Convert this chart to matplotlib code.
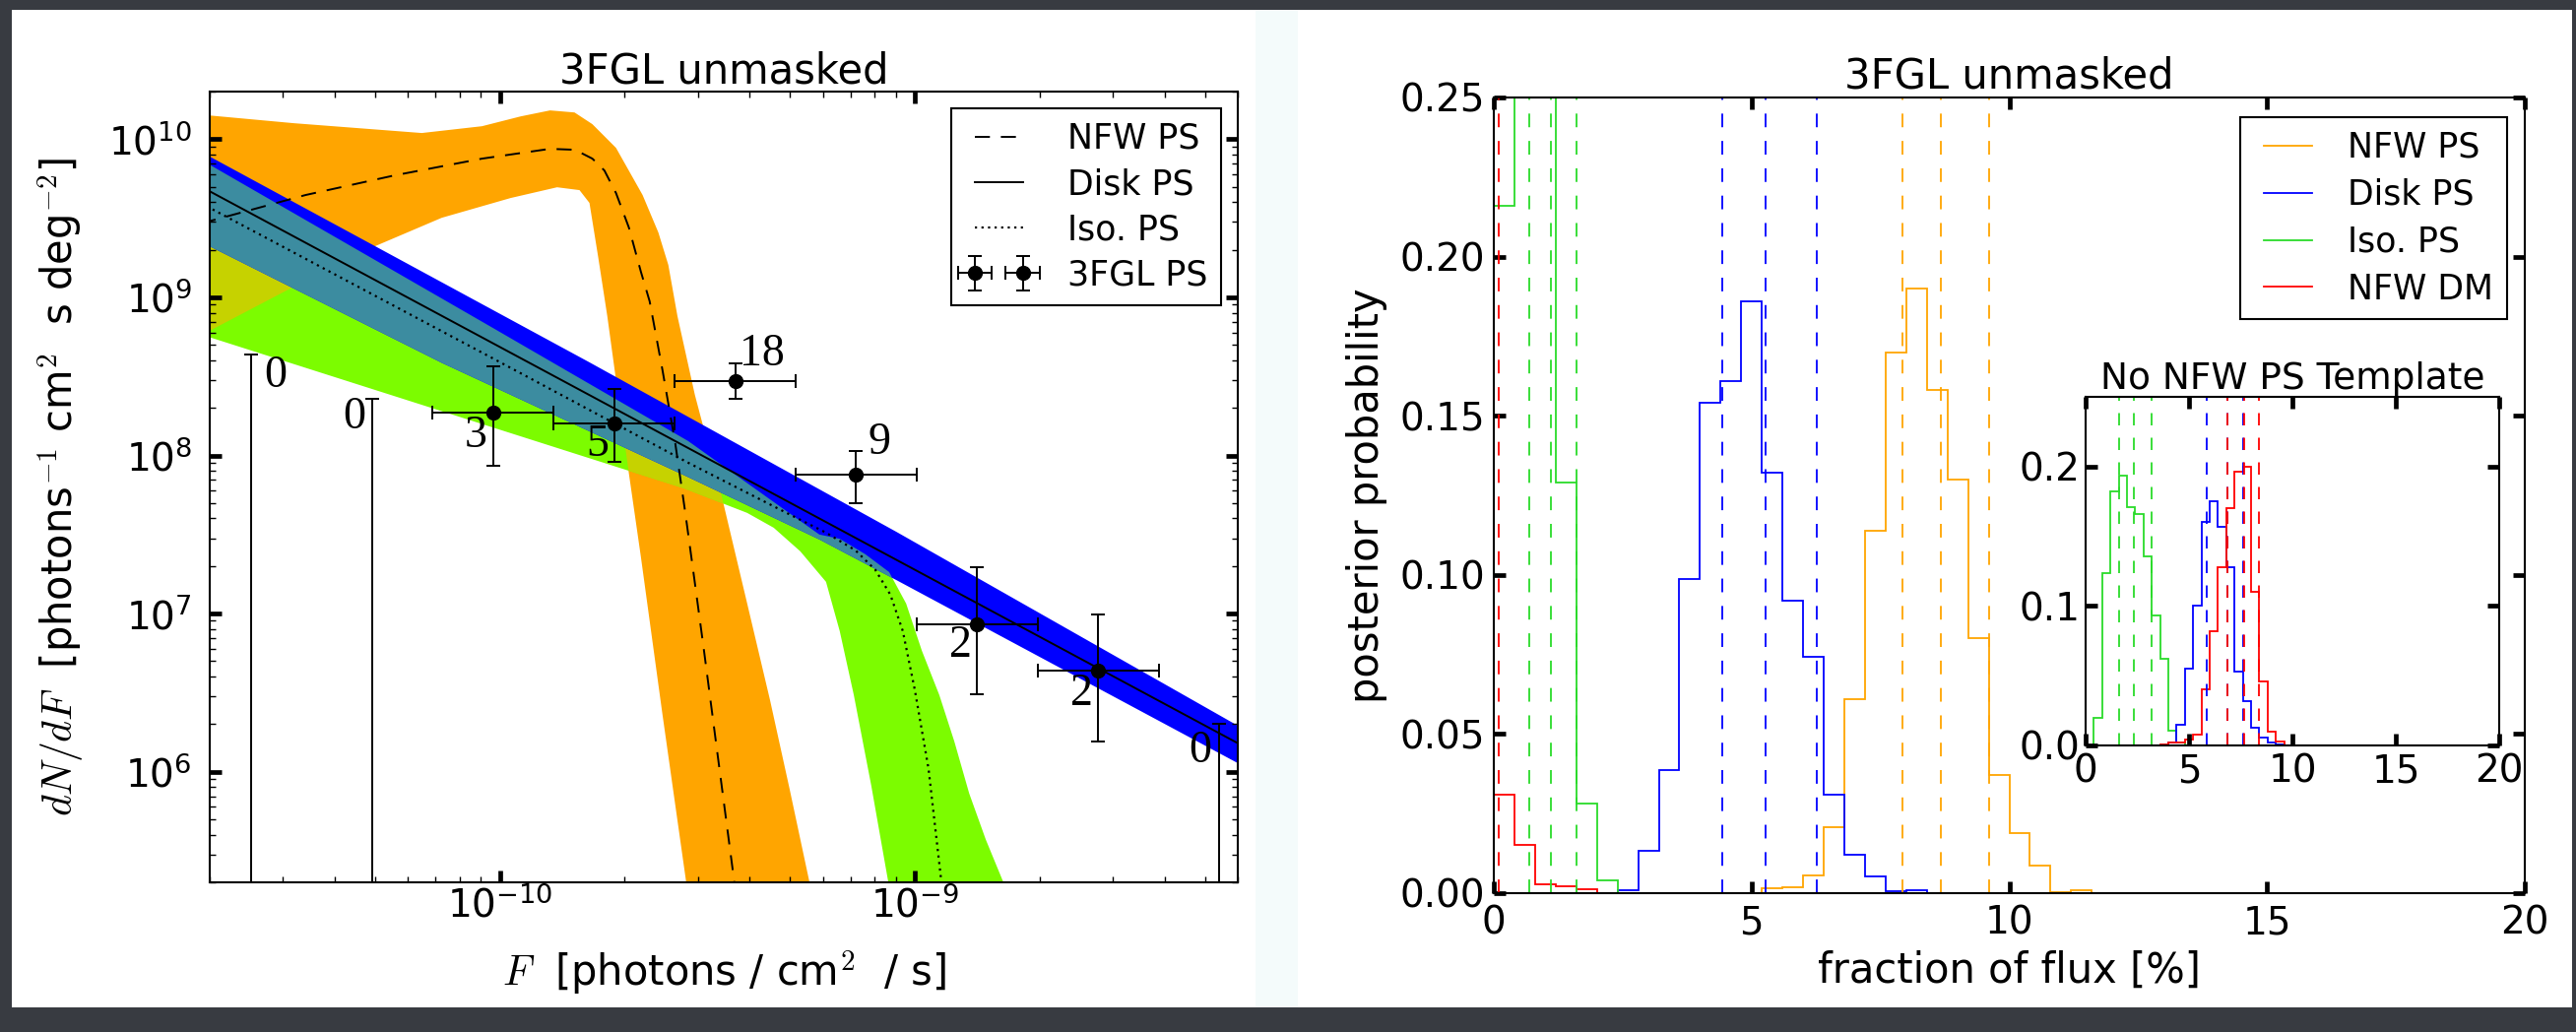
import numpy as np
import matplotlib
matplotlib.use("Agg")
import matplotlib.pyplot as plt
from matplotlib.patches import Rectangle
from matplotlib.lines import Line2D
from matplotlib.ticker import NullFormatter, MultipleLocator, FormatStrFormatter

plt.rcParams.update({
    "font.family": "DejaVu Sans",
    "axes.unicode_minus": False,
    "lines.scale_dashes": False,
    "axes.linewidth": 1.5,
    "xtick.direction": "in", "ytick.direction": "in",
    "xtick.top": True, "ytick.right": True,
    "xtick.major.size": 8.6, "xtick.major.width": 3.4,
    "ytick.major.size": 8.6, "ytick.major.width": 3.4,
    "xtick.minor.size": 4.3, "xtick.minor.width": 1.0,
    "ytick.minor.size": 4.3, "ytick.minor.width": 1.0,
    "xtick.labelsize": 28, "ytick.labelsize": 28,
    "legend.fontsize": 25,
})

# ---------------- source-count distribution (log10 values) ----------------
# NFW PS: median and 68% band
nfw_med_logF = [-10.72, -10.468, -10.254, -10.043, -9.879, -9.819, -9.777, -9.748, -9.720, -9.689,
                 -9.660, -9.639, -9.608, -9.577, -9.553, -9.532, -9.508, -9.477, -9.435, -9.416]
nfw_med_logN = [9.467, 9.647, 9.771, 9.877, 9.939, 9.933, 9.877, 9.802, 9.659, 9.441,
                9.161, 8.975, 8.539, 8.072, 7.636, 7.232, 6.765, 6.143, 5.303, 4.961]
nfw_hi_logF = [-10.72, -10.496, -10.188, -10.043, -9.950, -9.879, -9.820, -9.777, -9.720, -9.656,
               -9.618, -9.594, -9.572, -9.530, -9.466, -9.404, -9.349, -9.302, -9.254, -9.226]
nfw_hi_logN = [10.155, 10.101, 10.039, 10.082, 10.144, 10.182, 10.169, 10.095, 9.945, 9.647,
               9.410, 9.205, 8.881, 8.383, 7.749, 7.064, 6.454, 5.894, 5.303, 4.961]
nfw_lo_logF = [-10.72, -10.496, -10.318, -10.140, -9.974, -9.862, -9.808, -9.784, -9.763, -9.741,
               -9.720, -9.689, -9.660, -9.608, -9.551, -9.532]
nfw_lo_logN = [8.760, 9.068, 9.304, 9.503, 9.628, 9.696, 9.678, 9.597, 9.255, 8.881,
               8.477, 7.886, 7.357, 6.361, 5.303, 4.961]

# Disk PS: power law with band
disk_logF = [-10.72, -9.463, -8.20]
disk_med_logN = [9.70, 7.93, 6.15]
disk_hi_logF = [-10.72, -9.784, -9.043, -8.20]
disk_hi_logN = [9.92, 8.589, 7.515, 6.259]
disk_lo_logF = [-10.72, -10.140, -9.546, -9.230, -9.043, -8.20]
disk_lo_logN = [9.35, 8.586, 7.863, 7.469, 7.210, 6.024]

# Isotropic PS
iso_med_logF = [-10.72, -10.021, -9.546, -9.309, -9.214, -9.143, -9.095, -9.059, -9.029, -9.000,
                -8.967, -8.936, -8.929]
iso_med_logN = [9.595, 8.620, 7.954, 7.637, 7.512, 7.400, 7.276, 7.120, 6.890, 6.517,
                6.019, 5.303, 4.961]
iso_hi_logF = [-10.72, -10.021, -9.546, -9.230, -9.181, -9.119, -9.062, -9.021, -8.983, -8.941,
               -8.905, -8.869, -8.829, -8.786, -8.763]
iso_hi_logN = [9.87, 8.813, 8.091, 7.500, 7.473, 7.375, 7.263, 7.064, 6.765, 6.485,
               6.193, 5.863, 5.571, 5.297, 4.961]
iso_lo_logF = [-10.72, -9.556, -9.404, -9.340, -9.276, -9.214, -9.181, -9.147, -9.105, -9.064, -9.048]
iso_lo_logN = [8.765, 7.792, 7.637, 7.543, 7.394, 7.201, 6.890, 6.485, 5.913, 5.303, 4.961]

# 3FGL point sources in flux bins
flux_edges_log = [-10.745, -10.453, -10.162, -9.870, -9.579, -9.287, -8.996, -8.704, -8.412, -8.121]
counts = [0, 0, 3, 5, 18, 9, 2, 2, 0]
dnd_f = [0, 0, 1.87e8, 1.60e8, 2.95e8, 7.57e7, 8.57e6, 4.37e6, 0]
dnd_f_low = [0, 0, 8.6e7, 9.1e7, 2.28e8, 5.0e7, 3.08e6, 1.56e6, 0]
dnd_f_high = [4.35e8, 2.27e8, 3.66e8, 2.64e8, 3.82e8, 1.07e8, 1.97e7, 9.88e6, 2.02e6]
count_offsets = [(18, -16), (-13, -13), (-13, -17), (-12, -16), (20, 20), (17, 23),
                 (-12, -16), (-12, -17), (-14, -20)]

# ---------------- flux-fraction posteriors ----------------
BIN = 0.4
nfw_ps_start, nfw_ps_prob = 5.2, [0.0014, 0.002, 0.0056, 0.0207, 0.061, 0.114, 0.170, 0.190,
                                  0.158, 0.130, 0.080, 0.037, 0.019, 0.0087, 0.0004, 0.001]
disk_ps_start, disk_ps_prob = 2.4, [0.001, 0.0134, 0.0387, 0.0986, 0.154, 0.161, 0.186, 0.132,
                                    0.092, 0.0744, 0.0308, 0.0122, 0.0054, 0.0006, 0.001]
iso_ps_start, iso_ps_prob = 0.0, [0.2159, 0.32, 0.30, 0.129, 0.0283, 0.004]
nfw_dm_start, nfw_dm_prob = 0.0, [0.031, 0.0153, 0.0029, 0.0023, 0.0013]

nfw_ps_q = [7.92, 8.68, 9.61]
disk_ps_q = [4.44, 5.28, 6.26]
iso_ps_q = [0.69, 1.10, 1.60]
nfw_dm_q = [0.09]

# without the NFW PS template
in_iso_start, in_iso_prob = 0.4, [0.02, 0.1236, 0.1825, 0.1934, 0.1708, 0.166, 0.1354, 0.0929,
                                  0.0623, 0.0104, 0.002]
in_disk_start, in_disk_prob = 4.0, [0.002, 0.015, 0.055, 0.10, 0.16, 0.175, 0.157, 0.128,
                                    0.053, 0.032, 0.013, 0.006, 0.002, 0.001]
in_dm_start, in_dm_prob = 3.6, [0.001, 0.002, 0.002, 0.004, 0.008, 0.04, 0.082, 0.128, 0.17,
                                0.196, 0.2, 0.11, 0.046, 0.01, 0.003]
in_iso_q = [1.6, 2.32, 3.2]
in_disk_q = [5.88, 6.84, 7.64]
in_dm_q = [6.88, 7.68, 8.4]

# ---------------- colours ----------------
ORANGE = "#FFA500"
LGREEN = "#7CFC00"
BLUE = "#0000FF"
OLIVE = "#C6D200"
TEAL = "#3C8CA0"
H_GREEN = "#2ADB2A"
H_RED = "#FF0000"

W, H = 2616, 1048
fig = plt.figure(figsize=(W / 100, H / 100), dpi=100, facecolor="#383b41")


def px_box(x0, y0, x1, y1):
    return [x0 / W, 1 - y1 / H, (x1 - x0) / W, (y1 - y0) / H]


for (x0, x1, c) in [(12, 1275, "white"), (1275, 1318, "#f4fbfb"), (1318, 2612, "white")]:
    fig.patches.append(Rectangle((x0 / W, 1 - 1023 / H), (x1 - x0) / W, (1023 - 10) / H,
                                 transform=fig.transFigure, facecolor=c, edgecolor="none", zorder=-5))

# ======================= left panel =======================
axL = fig.add_axes(px_box(213, 93, 1257, 896))
axL.set_xscale("log")
axL.set_yscale("log")


def band(ax, fh, nh, fl, nl, **kw):
    x = np.concatenate([10 ** np.array(fh), (10 ** np.array(fl))[::-1]])
    y = np.concatenate([10 ** np.array(nh), (10 ** np.array(nl))[::-1]])
    return ax.fill(x, y, lw=0, **kw)[0]


p_orange = band(axL, nfw_hi_logF, nfw_hi_logN, nfw_lo_logF, nfw_lo_logN, color=ORANGE, zorder=1)
band(axL, iso_hi_logF, iso_hi_logN, iso_lo_logF, iso_lo_logN, color=LGREEN, zorder=1.1)
p_olive = band(axL, iso_hi_logF, iso_hi_logN, iso_lo_logF, iso_lo_logN, color=OLIVE, zorder=1.2)
p_olive.set_clip_path(p_orange)
p_blue = band(axL, disk_hi_logF, disk_hi_logN, disk_lo_logF, disk_lo_logN, color=BLUE, zorder=1.3)
p_teal = band(axL, iso_hi_logF, iso_hi_logN, iso_lo_logF, iso_lo_logN, color=TEAL, zorder=1.4)
p_teal.set_clip_path(p_blue)

axL.plot(10 ** np.array(nfw_med_logF), 10 ** np.array(nfw_med_logN), color="k", lw=1.4,
         ls=(0, (11, 8)), label="NFW PS", zorder=3)
axL.plot(10 ** np.array(disk_logF), 10 ** np.array(disk_med_logN), color="k", lw=1.4,
         label="Disk PS", zorder=3)
axL.plot(10 ** np.array(iso_med_logF), 10 ** np.array(iso_med_logN), color="k", lw=1.6,
         ls=(0, (1.6, 3.2)), label="Iso. PS", zorder=3)

edges = 10 ** np.array(flux_edges_log)
F = np.sqrt(edges[:-1] * edges[1:])
y = np.array(dnd_f)
yerr = [y - np.array(dnd_f_low), np.array(dnd_f_high) - y]
xerr = [F - edges[:-1], edges[1:] - F]
axL.errorbar(F, y, xerr=xerr, yerr=yerr, fmt="o", color="k", ms=10, elinewidth=1.4,
             capsize=4.7, capthick=1.4, label="3FGL PS", zorder=4)
for f, v, hi, n, off in zip(F, dnd_f, dnd_f_high, counts, count_offsets):
    anchor = v if v > 0 else hi
    axL.annotate(str(n), xy=(f, anchor), xytext=off, textcoords="offset points",
                 ha="center", va="center", fontsize=33, family="Liberation Serif", zorder=5)

axL.set_xlim(2e-11, 6e-9)
axL.set_ylim(2e5, 2e10)
axL.xaxis.set_minor_formatter(NullFormatter())
axL.yaxis.set_minor_formatter(NullFormatter())
axL.tick_params(axis="y", which="major", pad=13)
axL.tick_params(axis="x", which="major", pad=3)
axL.set_title("3FGL unmasked", fontsize=30, pad=2)
axL.set_xlabel(r"$F$  [photons / cm$^2$  / s]", fontsize=30, math_fontfamily="cm")
axL.xaxis.label.set_va("center")
axL.xaxis.set_label_coords(0.5, -0.1146)
axL.set_ylabel(r"$dN/dF$  [photons$^{-1}$ cm$^2$  s deg$^{-2}$]", fontsize=30,
               math_fontfamily="cm")
axL.yaxis.set_label_coords(-0.1197, 0.5)
legL = axL.legend(loc="upper right", bbox_to_anchor=(0.9837, 0.9788), borderaxespad=0,
                  numpoints=2, handlelength=2.0, handletextpad=1.0, borderpad=0.4,
                  labelspacing=0.35, fancybox=False, framealpha=1, edgecolor="k")
legL.get_frame().set_linewidth(1.5)

# ======================= right panel =======================
axR = fig.add_axes(px_box(1517, 99, 2564, 907))


def edges_from(start, probs):
    return start + BIN * np.arange(len(probs) + 1)


for start, probs, q, c in [(nfw_ps_start, nfw_ps_prob, nfw_ps_q, ORANGE),
                           (disk_ps_start, disk_ps_prob, disk_ps_q, BLUE),
                           (iso_ps_start, iso_ps_prob, iso_ps_q, H_GREEN),
                           (nfw_dm_start, nfw_dm_prob, nfw_dm_q, H_RED)]:
    axR.stairs(probs, edges_from(start, probs), color=c, lw=1.3, baseline=0)
    for v in q:
        axR.axvline(v, color=c, lw=1.3, ls=(0, (10, 10)))

axR.set_xlim(0, 20)
axR.set_ylim(0, 0.25)
axR.xaxis.set_major_locator(MultipleLocator(5))
axR.yaxis.set_major_locator(MultipleLocator(0.05))
axR.yaxis.set_major_formatter(FormatStrFormatter("%.2f"))
axR.tick_params(axis="y", pad=6.5)
axR.tick_params(axis="x", pad=8.5)
axR.set_title("3FGL unmasked", fontsize=30, pad=2)
axR.set_xlabel("fraction of flux [%]", fontsize=30)
axR.set_ylabel("posterior probability", fontsize=30)
axR.xaxis.label.set_va("center")
axR.yaxis.label.set_va("center")
axR.xaxis.set_label_coords(0.5, -0.0978)
axR.yaxis.set_label_coords(-0.1232, 0.5)

names = ["NFW PS", "Disk PS", "Iso. PS", "NFW DM"]
cols = [ORANGE, BLUE, H_GREEN, H_RED]
handles = [Line2D([], [], color=c, lw=1.3) for c in cols]
legR = axR.legend(handles, names, loc="upper right", bbox_to_anchor=(0.9828, 0.9752),
                  borderaxespad=0, numpoints=2, handlelength=2.0, handletextpad=0.75,
                  borderpad=0.4, labelspacing=0.4, fancybox=False, framealpha=1, edgecolor="k")
legR.get_frame().set_linewidth(1.5)

# inset: fit without the NFW PS template
axI = fig.add_axes(px_box(2118, 403, 2538, 757))
for start, probs, q, c in [(in_iso_start, in_iso_prob, in_iso_q, H_GREEN),
                           (in_disk_start, in_disk_prob, in_disk_q, BLUE),
                           (in_dm_start, in_dm_prob, in_dm_q, H_RED)]:
    axI.stairs(probs, edges_from(start, probs), color=c, lw=1.3, baseline=0)
    for v in q:
        axI.axvline(v, color=c, lw=1.3, ls=(0, (9, 9)))
axI.set_xlim(0, 20)
axI.set_ylim(0, 0.25)
axI.xaxis.set_major_locator(MultipleLocator(5))
axI.yaxis.set_major_locator(MultipleLocator(0.1))
axI.yaxis.set_major_formatter(FormatStrFormatter("%.1f"))
axI.tick_params(axis="y", pad=4)
axI.tick_params(axis="x", pad=5.5)
axI.set_title("No NFW PS Template", fontsize=27, pad=4)

fig.savefig("out.png", dpi=100, facecolor=fig.get_facecolor())
